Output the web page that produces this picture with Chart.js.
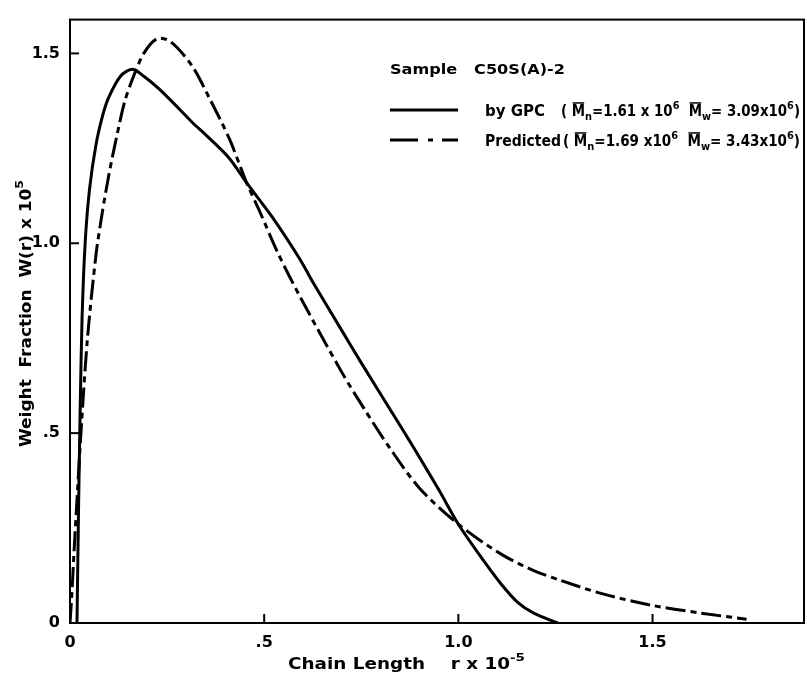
<!DOCTYPE html>
<html>
<head>
<meta charset="utf-8">
<title>Weight fraction vs chain length</title>
<script src="https://cdn.jsdelivr.net/npm/chart.js@4.4.1/dist/chart.umd.min.js"></script>
<style>
  html, body { margin: 0; padding: 0; background: #fff; }
  #wrap { width: 807px; height: 677px; position: relative; }
</style>
</head>
<body>
<div id="wrap"><canvas id="chart"></canvas></div>
<script>
// Chain length r x 10^-5 and weight fraction W(r) x 10^5
const gpcR = [0.018, 0.022, 0.026, 0.031, 0.039, 0.05, 0.067, 0.085, 0.1, 0.13, 0.16, 0.19, 0.23, 0.28, 0.315, 0.351, 0.41, 0.455, 0.52, 0.592, 0.625, 0.7, 0.75, 0.85, 0.889, 0.95, 1.0, 1.065, 1.109, 1.152, 1.194, 1.256];
const gpcW = [0, 0.3, 0.55, 0.8, 1.0, 1.14, 1.26, 1.34, 1.385, 1.44, 1.458, 1.44, 1.406, 1.355, 1.318, 1.284, 1.224, 1.159, 1.07, 0.958, 0.898, 0.77, 0.685, 0.52, 0.455, 0.35, 0.26, 0.164, 0.104, 0.055, 0.026, 0];

const predR = [0, 0.005, 0.01, 0.02, 0.03, 0.045, 0.067, 0.083, 0.1, 0.12, 0.14, 0.16, 0.19, 0.225, 0.26, 0.315, 0.36, 0.41, 0.455, 0.488, 0.535, 0.592, 0.7, 0.76, 0.824, 0.9, 1.0, 1.109, 1.194, 1.264, 1.367, 1.496, 1.625, 1.742];
const predW = [0, 0.08, 0.18, 0.36, 0.53, 0.75, 0.97, 1.08, 1.18, 1.28, 1.37, 1.43, 1.50, 1.539, 1.53, 1.466, 1.38, 1.276, 1.159, 1.085, 0.975, 0.86, 0.66, 0.56, 0.46, 0.355, 0.26, 0.182, 0.138, 0.112, 0.078, 0.047, 0.026, 0.01];

const xTicks = [0, 0.5, 1.0, 1.5];
const xTickLabels = ["0", ".5", "1.0", "1.5"];
const yTicks = [0, 0.5, 1.0, 1.5];
const yTickLabels = ["0", ".5", "1.0", "1.5"];

const FONT = "'DejaVu Sans', 'Liberation Sans', sans-serif";

function fontOf(size) {
  return "bold " + size + "px " + FONT;
}

// Draw a run of text pieces (sub/superscripts, overlines), squeezed to a given width
function drawRich(ctx, segs, x, y, width) {
  let total = 0;
  segs.forEach((s) => {
    ctx.font = fontOf(s.size || 14);
    s.w = ctx.measureText(s.t).width;
    total += s.w;
  });
  ctx.save();
  ctx.translate(x, y);
  ctx.scale(width / total, 1);
  ctx.textAlign = "left";
  ctx.textBaseline = "alphabetic";
  let cx = 0;
  segs.forEach((s) => {
    const size = s.size || 14;
    ctx.font = fontOf(size);
    ctx.fillText(s.t, cx, s.dy || 0);
    if (s.over) {
      ctx.fillRect(cx + 1, -size * 0.92, s.w - 2, 1.5);
    }
    cx += s.w;
  });
  ctx.restore();
}

function pairs(xs, ys) {
  return xs.map((x, i) => ({ x: x, y: ys[i] }));
}

function momentText(mn, mw) {
  return [
    { t: "( ", size: 15 },
    { t: "M", size: 15, over: true },
    { t: "n", size: 11, dy: 4 },
    { t: mn, size: 15 },
    { t: "6", size: 11, dy: -7 },
    { t: "  ", size: 15 },
    { t: "M", size: 15, over: true },
    { t: "w", size: 11, dy: 4 },
    { t: mw, size: 15 },
    { t: "6", size: 11, dy: -7 },
    { t: ")", size: 15 },
  ];
}

const framePlugin = {
  id: "frame",
  afterDraw(chart) {
    const ctx = chart.ctx;
    const area = chart.chartArea;
    const xs = chart.scales.x;
    const ys = chart.scales.y;

    ctx.save();
    ctx.fillStyle = "#000";
    ctx.strokeStyle = "#000";

    // plot box
    ctx.lineWidth = 2;
    ctx.strokeRect(area.left, area.top, area.right - area.left, area.bottom - area.top);

    // inward ticks
    xTicks.forEach((v) => {
      if (v === 0) return;
      const px = xs.getPixelForValue(v);
      ctx.beginPath();
      ctx.moveTo(px, area.bottom);
      ctx.lineTo(px, area.bottom - 9);
      ctx.stroke();
    });
    yTicks.forEach((v) => {
      if (v === 0) return;
      const py = ys.getPixelForValue(v);
      ctx.beginPath();
      ctx.moveTo(area.left, py);
      ctx.lineTo(area.left + 9, py);
      ctx.stroke();
    });

    // x axis title
    drawRich(ctx, [
      { t: "Chain Length    r x 10", size: 15 },
      { t: "-5", size: 11, dy: -8 },
    ], 288, 669, 237);

    // y axis title (rotated)
    ctx.save();
    ctx.translate(31, 447);
    ctx.rotate(-Math.PI / 2);
    drawRich(ctx, [
      { t: "Weight  Fraction  W(r) x 10", size: 15 },
      { t: "5", size: 11, dy: -8 },
    ], 0, 0, 267);
    ctx.restore();

    // legend
    drawRich(ctx, [{ t: "Sample   C50S(A)-2", size: 14 }], 390, 74, 175);

    ctx.lineWidth = 3;
    ctx.setLineDash([]);
    ctx.beginPath();
    ctx.moveTo(390, 110);
    ctx.lineTo(458, 110);
    ctx.stroke();

    [[390, 418], [428, 433], [442, 458]].forEach((seg) => {
      ctx.beginPath();
      ctx.moveTo(seg[0], 140);
      ctx.lineTo(seg[1], 140);
      ctx.stroke();
    });

    drawRich(ctx, [{ t: "by GPC", size: 15 }], 485, 116, 60);
    drawRich(ctx, momentText("=1.61 x 10", "= 3.09x10"), 561, 116, 239);

    drawRich(ctx, [{ t: "Predicted", size: 15 }], 485, 146, 76);
    drawRich(ctx, momentText("=1.69 x10", "= 3.43x10"), 563, 146, 237);

    ctx.restore();
  },
};

new Chart(document.getElementById("chart"), {
  type: "scatter",
  data: {
    datasets: [
      {
        label: "by GPC",
        data: pairs(gpcR, gpcW),
        showLine: true,
        borderColor: "#000",
        borderWidth: 3,
        pointRadius: 0,
        tension: 0.3,
      },
      {
        label: "Predicted",
        data: pairs(predR, predW),
        showLine: true,
        borderColor: "#000",
        borderWidth: 3,
        borderDash: [20, 5, 6, 5],
        pointRadius: 0,
        tension: 0.3,
      },
    ],
  },
  options: {
    responsive: true,
    maintainAspectRatio: false,
    animation: false,
    layout: { padding: { top: 13, right: 3, left: 0, bottom: 0 } },
    plugins: {
      legend: { display: false },
      tooltip: { enabled: false },
    },
    scales: {
      x: {
        type: "linear",
        min: 0,
        max: 1.89,
        grid: { display: false, drawTicks: false },
        border: { display: false },
        afterBuildTicks: (scale) => {
          scale.ticks = xTicks.map((v) => ({ value: v }));
        },
        afterFit: (scale) => {
          scale.height = 54;
        },
        ticks: {
          color: "#000",
          font: { family: FONT, size: 16, weight: "bold" },
          padding: 10,
          maxRotation: 0,
          autoSkip: false,
          callback: (v) => xTickLabels[xTicks.indexOf(v)],
        },
      },
      y: {
        type: "linear",
        min: 0,
        max: 1.589,
        grid: { display: false, drawTicks: false },
        border: { display: false },
        afterBuildTicks: (scale) => {
          scale.ticks = yTicks.map((v) => ({ value: v }));
        },
        afterFit: (scale) => {
          scale.width = 70;
        },
        ticks: {
          color: "#000",
          font: { family: FONT, size: 16, weight: "bold" },
          padding: 10,
          autoSkip: false,
          callback: (v) => yTickLabels[yTicks.indexOf(v)],
        },
      },
    },
  },
  plugins: [framePlugin],
});
</script>
</body>
</html>
